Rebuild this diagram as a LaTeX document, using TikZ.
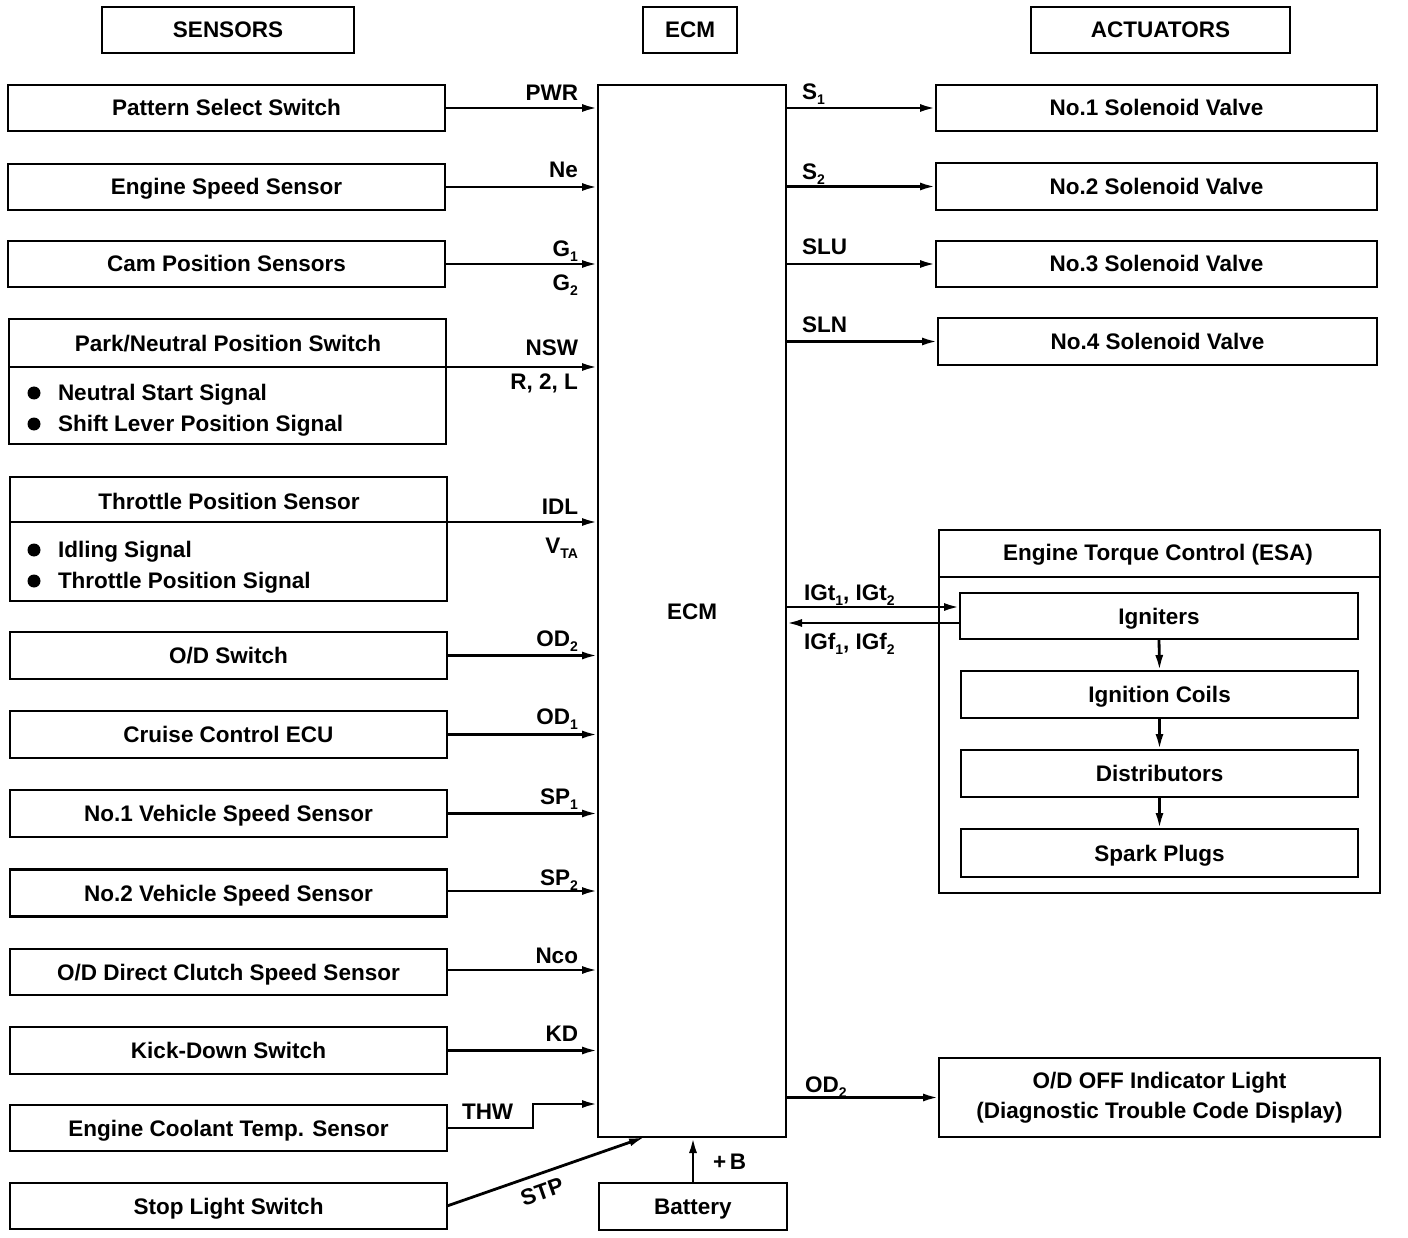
\documentclass[tikz,border=0pt]{standalone}
\usepackage{fontspec}
\usepackage{graphicx}
\setmainfont{Liberation Sans}
\usetikzlibrary{arrows.meta}
\newcommand\lsub[1]{\raisebox{-5pt}{\fontsize{14}{14}\selectfont #1}}
\begin{document}
\begin{tikzpicture}[x=1pt,y=-1pt,
  every node/.style={font=\fontsize{22.5}{30}\selectfont\bfseries, inner sep=0pt, outer sep=0pt},
  box/.style={draw, line width=2.8pt, text height=16pt, text depth=0pt},
  bigbox/.style={draw, line width=2.8pt},
  arr/.style={line width=2.8pt, -{Latex[length=16pt,width=8pt]}},
  ln/.style={line width=2.8pt},
  lbl/.style={anchor=base east},
  rlbl/.style={anchor=base west}]
\useasboundingbox (0,0) rectangle (1408,1238);

% headers
\node[box, minimum width=252pt, minimum height=46pt] (hs) at (228,30) {SENSORS};
\node[box, minimum width=94pt, minimum height=46pt] (he) at (690,30) {ECM};
\node[box, minimum width=259pt, minimum height=46pt] (ha) at (1160.5,30) {ACTUATORS};

% ECM and battery
\node[box, minimum width=188pt, minimum height=1052pt] (ecm) at (692,611) {ECM};
\node[box, minimum width=188pt, minimum height=47pt] (bat) at (693,1206.5) {Battery};

% sensors
\node[box, minimum width=437pt, minimum height=46pt] (s1) at (226.5,108) {Pattern Select Switch};
\node[box, minimum width=437pt, minimum height=46pt] (s2) at (226.5,187) {Engine Speed Sensor};
\node[box, minimum width=437pt, minimum height=46pt] (s3) at (226.5,264) {Cam Position Sensors};
\node[bigbox, minimum width=437pt, minimum height=125pt] (s4) at (227.5,381.5) {};
\node (s4t) at (228,344) {Park/Neutral Position Switch};
\node[anchor=base west] (s4a) at (58,400) {Neutral Start Signal};
\node[anchor=base west] (s4b) at (58,431) {Shift Lever Position Signal};
\fill (34,393) circle (6.5);
\fill (34,424) circle (6.5);
\node[bigbox, minimum width=437pt, minimum height=124pt] (s5) at (228.5,539) {};
\node (s5t) at (229,501) {Throttle Position Sensor};
\node[anchor=base west] (s5a) at (58,557) {Idling Signal};
\node[anchor=base west] (s5b) at (58,588) {Throttle Position Signal};
\fill (34,550) circle (6.5);
\fill (34,581) circle (6.5);
\node[box, minimum width=437pt, minimum height=47pt] (s6) at (228.5,655.5) {O/D Switch};
\node[box, minimum width=437pt, minimum height=47pt] (s7) at (228.5,734.5) {Cruise Control ECU};
\node[box, minimum width=437pt, minimum height=47pt] (s8) at (228.5,813.5) {No.1 Vehicle Speed Sensor};
\node[box, minimum width=437pt, minimum height=47pt] (s9) at (228.5,893) {No.2 Vehicle Speed Sensor};
\node[box, minimum width=437pt, minimum height=46pt] (s10) at (228.5,972) {O/D Direct Clutch Speed Sensor};
\node[box, minimum width=437pt, minimum height=47pt] (s11) at (228.5,1050.5) {Kick-Down Switch};
\node[box, minimum width=437pt, minimum height=46pt] (s12) at (228.5,1128) {Engine Coolant Temp. Sensor};
\node[box, minimum width=437pt, minimum height=46pt] (s13) at (228.5,1206) {Stop Light Switch};

% actuators
\node[box, minimum width=441pt, minimum height=46pt] (a1) at (1156.5,108) {No.1 Solenoid Valve};
\node[box, minimum width=441pt, minimum height=47pt] (a2) at (1156.5,186.5) {No.2 Solenoid Valve};
\node[box, minimum width=441pt, minimum height=46pt] (a3) at (1156.5,264) {No.3 Solenoid Valve};
\node[box, minimum width=439pt, minimum height=47pt] (a4) at (1157.5,341.5) {No.4 Solenoid Valve};
\node[bigbox, minimum width=441pt, minimum height=363pt] (esa) at (1159.5,711.5) {};
\node (esat) at (1158,555) {Engine Torque Control (ESA)};
\coordinate (esad) at (0,577);
\draw[ln] (esa.west |- esad) -- (esa.east |- esad);
\node[box, minimum width=398pt, minimum height=46pt] (ign) at (1159,616) {Igniters};
\node[box, minimum width=397pt, minimum height=47pt] (coil) at (1159.5,694.5) {Ignition Coils};
\node[box, minimum width=397pt, minimum height=47pt] (dist) at (1159.5,773.5) {Distributors};
\node[box, minimum width=397pt, minimum height=48pt] (spark) at (1159.5,853) {Spark Plugs};
\node[bigbox, minimum width=441pt, minimum height=79pt, align=center] (odoff) at (1159.5,1097.5) {O/D OFF Indicator Light\\(Diagnostic Trouble Code Display)};

% sensor connectors
\draw[arr] (s1.east) -- (ecm.west |- s1.east);
\draw[arr] (s2.east) -- (ecm.west |- s2.east);
\draw[arr] (s3.east) -- (ecm.west |- s3.east);
\coordinate (s4d) at (9,367);
\draw[arr] (s4d) -- (ecm.west |- s4d);
\coordinate (s5d) at (10,522);
\draw[arr] (s5d) -- (ecm.west |- s5d);
\draw[arr] (s6.east) -- (ecm.west |- s6.east);
\draw[arr] (s7.east) -- (ecm.west |- s7.east);
\draw[arr] (s8.east) -- (ecm.west |- s8.east);
\coordinate (s9l) at (447,891);
\draw[arr] (s9l) -- (ecm.west |- s9l);
\coordinate (s10l) at (447,970);
\draw[arr] (s10l) -- (ecm.west |- s10l);
\draw[arr] (s11.east) -- (ecm.west |- s11.east);
\coordinate (thwk) at (533,1104);
\draw[arr] (s12.east) -| (thwk) -- (ecm.west |- thwk);
\coordinate (stpend) at (645,1137);
\draw[arr] (s13.east) -- node[sloped, pos=0.45, below=10pt] {STP} (stpend);
\draw[arr] (bat.north) -- (bat.north |- ecm.south);
\node[anchor=base west] at (713,1169) {+\,B};

% sensor labels
\node[lbl] at (578,101) {PWR};
\node[lbl] at (578,178) {Ne};
\node[lbl] at (578,257) {G\lsub{1}};
\node[lbl] at (578,291) {G\lsub{2}};
\node[lbl] at (578,356) {NSW};
\node[lbl] at (578,389) {R, 2, L};
\node[lbl] at (578,514) {IDL};
\node[lbl] at (578,553) {V\lsub{TA}};
\node[lbl] at (578,646) {OD\lsub{2}};
\node[lbl] at (578,724) {OD\lsub{1}};
\node[lbl] at (578,804) {SP\lsub{1}};
\node[lbl] at (578,885) {SP\lsub{2}};
\node[lbl] at (578,963) {Nco};
\node[lbl] at (578,1041) {KD};
\node[rlbl] at (462,1119) {THW};

% actuator connectors
\draw[arr] (ecm.east |- a1.west) -- (a1.west);
\draw[arr] (ecm.east |- a2.west) -- (a2.west);
\draw[arr] (ecm.east |- a3.west) -- (a3.west);
\draw[arr] (ecm.east |- a4.west) -- (a4.west);
\coordinate (igt) at (0,607);
\coordinate (igf) at (0,623);
\draw[arr] (ecm.east |- igt) -- (ign.west |- igt);
\draw[arr] (ign.west |- igf) -- (ecm.east |- igf);
\draw[arr] (ign.south) -- (coil.north);
\draw[arr] (coil.south) -- (dist.north);
\draw[arr] (dist.south) -- (spark.north);
\draw[arr] (ecm.east |- odoff.west) -- (odoff.west);

% actuator labels
\node[rlbl] at (802,100) {S\lsub{1}};
\node[rlbl] at (802,180) {S\lsub{2}};
\node[rlbl] at (802,255) {SLU};
\node[rlbl] at (802,333) {SLN};
\node[rlbl] at (804,600) {IGt\lsub{1}, IGt\lsub{2}};
\node[rlbl] at (804,649) {IGf\lsub{1}, IGf\lsub{2}};
\node[rlbl] at (805,1092) {OD\lsub{2}};
\end{tikzpicture}
\end{document}
